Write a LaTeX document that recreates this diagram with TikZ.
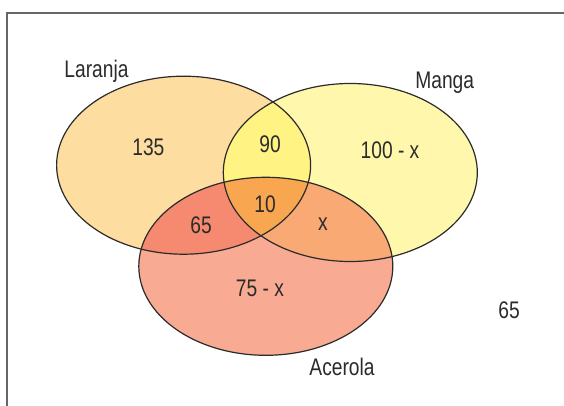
\documentclass[tikz,border=0pt]{standalone}
\usepackage{fontspec}
\newfontfamily\vennfont[FakeStretch=0.8]{Liberation Sans}
\usetikzlibrary{positioning}

\definecolor{cL}{HTML}{FDDDA0}
\definecolor{cM}{HTML}{FFF8AC}
\definecolor{cA}{HTML}{F8AA93}
\definecolor{cLM}{HTML}{FFF383}
\definecolor{cLA}{HTML}{F58A70}
\definecolor{cMA}{HTML}{F8A974}
\definecolor{cLMA}{HTML}{F9A650}
\definecolor{txt}{HTML}{2B2B2B}

\def\laranja{(183.6,165.2) ellipse [x radius=127, y radius=89]}
\def\manga{(350.3,172.5) ellipse [x radius=127, y radius=89]}
\def\acerola{(265.8,266.3) ellipse [x radius=127, y radius=89]}

\begin{document}
\begin{tikzpicture}[
    x = 1pt,
    y = -1pt,
    t/.style={font=\vennfont\fontsize{24}{27}\selectfont, text=txt,
      anchor=base, inner sep=0pt},
    o/.style={draw=txt, line width=1.2pt},]
  \useasboundingbox (0,0) rectangle (564,406);
  \clip (0,0) rectangle (564,406);
  \fill[white] (0,0) rectangle (564,406);
  \draw[line width=2pt, draw=black!60] (7,420) -- (7,13) -- (580,13);
  %%
  \fill[cL] \laranja;
  \fill[cM] \manga;
  \fill[cA] \acerola;
  \begin{scope}
    \clip \laranja;
    \fill[cLM] \manga;
    \fill[cLA] \acerola;
    \clip \manga;
    \fill[cLMA] \acerola;
  \end{scope}
  \begin{scope}[even odd rule]
    \clip \manga;
    \clip \acerola;
    \clip (0,0) rectangle (564,406) \laranja;
    \fill[cMA] (0,0) rectangle (564,406);
  \end{scope}
  \draw[o] \laranja;
  \draw[o] \manga;
  \draw[o] \acerola;
  %%
  \node[t] (nL) at (96.5,77.7) {Laranja};
  \node[t] (nM) at (444.7,89) {Manga};
  \node[t] (nA) at (342,375) {Acerola};
  \node[t] (vL) at (148.4,156) {135};
  \node[t] (vLM) at (270,152.7) {90};
  \node[t] (vM) at (390,159) {100 - x};
  \node[t] (vLMA) at (265,212.7) {10};
  \node[t] (vLA) at (201,233) {65};
  \node[t] (vMA) at (323,230.7) {x};
  \node[t] (vA) at (260,296.7) {75 - x};
  \node[t] (vU) at (509,318.3) {65};
\end{tikzpicture}
\end{document}
